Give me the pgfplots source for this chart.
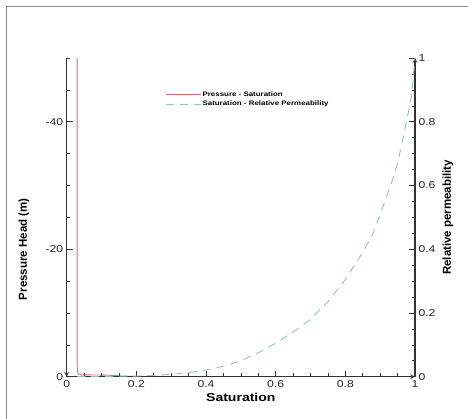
\documentclass[border=0pt]{standalone}
\usepackage{fontspec}
\setmainfont{Liberation Sans}[FakeStretch=1.22]
\newfontfamily\plainsans{Liberation Sans}
\usepackage{pgfplots}
\pgfplotsset{compat=1.18}

\definecolor{psline}{RGB}{214,112,112}
\definecolor{krline}{RGB}{150,196,186}
\definecolor{axline}{RGB}{50,50,50}

\pgfplotsset{
  common/.style={
    scale only axis, width=348.3bp, height=318.7bp,
    xmin=0, xmax=1,
    major tick length=6bp, minor tick length=3.5bp,
    axis line style={-, draw=axline, line width=1.1pt},
    major tick style={draw=axline, line width=0.9pt},
    minor tick style={draw=axline, line width=0.6pt},
    /pgf/number format/assume math mode=true,
    ticklabel style={font=\fontsize{10bp}{12bp}\selectfont, text=black!85},
  }
}

\begin{document}
\begin{tikzpicture}
\useasboundingbox (-66.7bp,-42.3bp) rectangle (401.3bp,376.7bp);
\draw[gray!90, line width=0.8bp] (-60.5bp,-42.3bp) -- (-60.5bp,369.8bp) -- (401.3bp,369.8bp);

\begin{axis}[common,
  ymin=-50, ymax=0, y dir=reverse,
  axis x line=bottom, axis y line=left,
  xtick align=inside, ytick align=inside,
  axis on top,
  xtick={0,0.2,0.4,0.6,0.8,1},
  minor xtick={0.05,0.1,0.15,0.25,0.3,0.35,0.45,0.5,0.55,0.65,0.7,0.75,0.85,0.9,0.95},
  ytick={0,-20,-40},
  minor ytick={-50,-45,-35,-30,-25,-15,-10,-5},
  xlabel={Saturation},
  xlabel style={at={(axis description cs:0.5,-0.0659)}, anchor=center,
    font=\fontsize{11.5bp}{13bp}\selectfont\bfseries},
  ylabel={Pressure Head (m)},
  ylabel style={at={(axis description cs:-0.1226,0.4)}, anchor=center,
    font=\plainsans\fontsize{11.5bp}{13bp}\selectfont\bfseries},
  legend style={draw=none, fill=none, at={(axis description cs:0.275,0.905)}, anchor=north west,
    font=\fontsize{6.5bp}{7bp}\selectfont\bfseries, row sep=1.2bp,
    nodes={inner sep=1bp}},
  legend cell align=left,
  legend image code/.code={\draw[#1] (0bp,0bp) -- (35bp,0bp);},
]
\addlegendimage{psline, line width=0.9pt}
\addlegendentry{Pressure - Saturation}
\addlegendimage{krline, line width=0.9pt, dash pattern=on 8bp off 6bp}
\addlegendentry{Saturation - Relative Permeability}
\addplot[psline, line width=0.9pt, forget plot] coordinates {
(0.03,-50) (0.03,-10) (0.03,-2) (0.031,-0.8) (0.033,-0.45) (0.04,-0.3) (0.06,-0.28)
(0.1,-0.26) (0.125,-0.22) (0.16,-0.1) (0.2,-0.04) (0.4,-0.02) (1,0)
};
\end{axis}

\begin{axis}[common,
  ymin=0, ymax=1,
  axis x line=none, axis y line=right,
  ytick align=inside,
  ytick={0,0.2,0.4,0.6,0.8,1},
  minor ytick={0.05,0.1,0.15,0.25,0.3,0.35,0.45,0.5,0.55,0.65,0.7,0.75,0.85,0.9,0.95},
  ylabel={Relative permeability},
  ylabel style={at={(axis description cs:1.0947,0.5)}, anchor=center,
    font=\plainsans\fontsize{11.5bp}{13bp}\selectfont\bfseries},
]
\addplot[krline, line width=0.9pt, dash pattern=on 8bp off 6bp] coordinates {
(0.03,0) (0.1,0.0005) (0.2,0.002) (0.3,0.007) (0.35,0.013) (0.4,0.021) (0.45,0.033)
(0.5,0.05) (0.55,0.075) (0.6,0.105) (0.65,0.14) (0.7,0.18) (0.75,0.235) (0.8,0.305)
(0.85,0.39) (0.88,0.45) (0.91,0.54) (0.93,0.6) (0.95,0.67) (0.97,0.77) (0.99,0.88) (1,1)
};
\end{axis}
\end{tikzpicture}
\end{document}
